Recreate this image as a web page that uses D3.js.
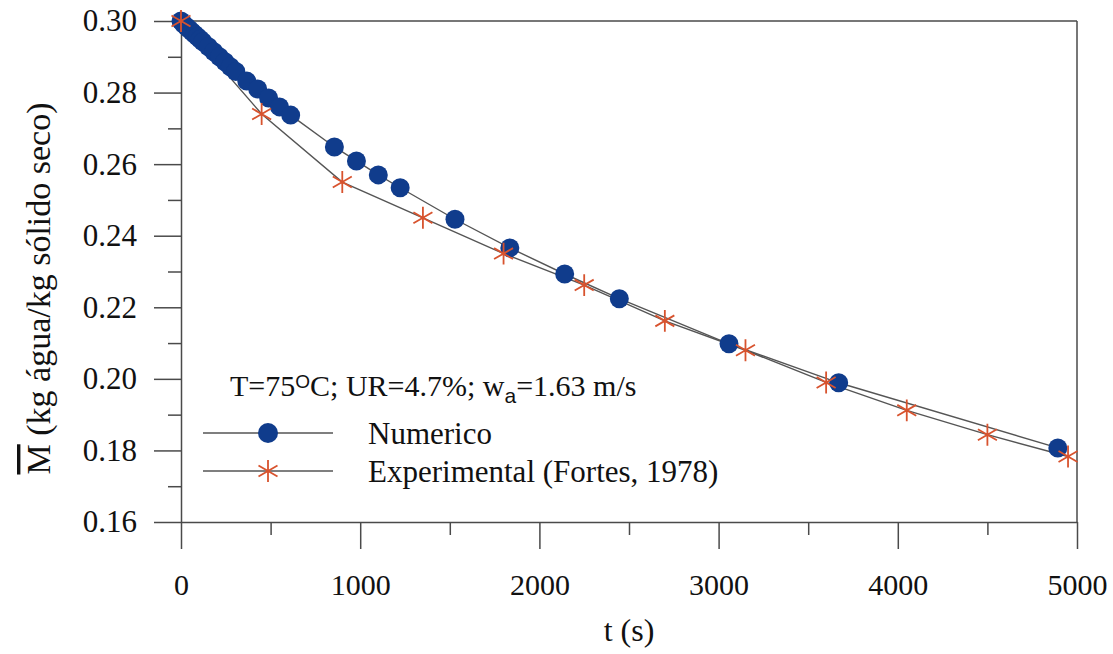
<!DOCTYPE html>
<html>
<head>
<meta charset="utf-8">
<script src="https://cdn.jsdelivr.net/npm/d3@7"></script>
<style>
  html, body { margin: 0; padding: 0; background: #ffffff; }
  svg { display: block; }
</style>
</head>
<body>
<svg id="chart" width="1113" height="654"></svg>
<script>
// Numerical solution: time (s) and average moisture content
const numTime = [0, 15, 31, 46, 61, 76, 92, 107, 122, 153, 183, 214, 245, 275, 306,
                 367, 428, 489, 550, 612, 856, 979, 1101, 1223, 1529, 1835, 2141, 2446,
                 3058, 3670, 4893];
const numM = [0.3000, 0.2991, 0.2984, 0.2977, 0.2970, 0.2963, 0.2956, 0.2949, 0.2942,
              0.2928, 0.2914, 0.2900, 0.2886, 0.2872, 0.2859,
              0.2832, 0.2810, 0.2785, 0.2760, 0.2737, 0.2648, 0.2609, 0.2570, 0.2534,
              0.2446, 0.2366, 0.2293, 0.2224, 0.2098, 0.1989, 0.1807];

// Experimental data (Fortes, 1978)
const expTime = [0, 450, 900, 1350, 1800, 2250, 2700, 3150, 3600, 4050, 4500, 4950];
const expM = [0.300, 0.274, 0.255, 0.245, 0.235, 0.2262, 0.2162, 0.208, 0.199, 0.1912, 0.1844, 0.1783];

// Axis ticks
const xTicks = [0, 1000, 2000, 3000, 4000, 5000];
const xMinorTicks = [500, 1500, 2500, 3500, 4500];
const yTicks = [0.16, 0.18, 0.20, 0.22, 0.24, 0.26, 0.28, 0.30];
const yMinorTicks = [0.17, 0.19, 0.21, 0.23, 0.25, 0.27, 0.29];

const seriesNames = ["Numerico", "Experimental (Fortes, 1978)"];

const SERIF = '"Liberation Serif", "Times New Roman", serif';
const svg = d3.select("#chart").style("font-family", SERIF);
const plotL = 181, plotR = 1077, plotT = 21, plotB = 522;

const x = d3.scaleLinear().domain([0, 5000]).range([plotL, plotR]);
const y = d3.scaleLinear().domain([0.16, 0.30]).range([plotB, plotT]);

const axisColor = "#4a4a4a";
const lineColor = "#555555";
const blue = "#103c8c";
const red = "#d8532e";

// frame: top and right borders
svg.append("line").attr("x1", plotL).attr("x2", plotR).attr("y1", plotT).attr("y2", plotT)
  .attr("stroke", axisColor).attr("stroke-width", 1.5);
svg.append("line").attr("x1", plotR).attr("x2", plotR).attr("y1", plotT).attr("y2", plotB)
  .attr("stroke", axisColor).attr("stroke-width", 1.5);

// minor ticks
svg.append("g").attr("transform", `translate(${plotL},0)`)
  .call(d3.axisLeft(y).tickValues(yMinorTicks).tickSize(13).tickFormat(""))
  .call(g => g.select(".domain").remove());
svg.append("g").attr("transform", `translate(0,${plotB})`)
  .call(d3.axisBottom(x).tickValues(xMinorTicks).tickSize(13).tickFormat(""))
  .call(g => g.select(".domain").remove());

// major axes
svg.append("g").attr("transform", `translate(${plotL},0)`)
  .call(d3.axisLeft(y).tickValues(yTicks).tickSize(27).tickSizeOuter(0).tickPadding(17)
    .tickFormat(d3.format(".2f")))
  .call(g => g.selectAll(".tick text").style("font-size", "31px"));
svg.append("g").attr("transform", `translate(0,${plotB})`)
  .call(d3.axisBottom(x).tickValues(xTicks).tickSize(27).tickSizeOuter(0).tickPadding(25)
    .tickFormat(d3.format("d")))
  .call(g => g.selectAll(".tick text").style("font-size", "30px"));

svg.selectAll("g").attr("font-family", null);
svg.selectAll(".tick line").attr("stroke", axisColor).attr("stroke-width", 1.5);
svg.selectAll(".domain").attr("stroke", axisColor).attr("stroke-width", 1.5);
svg.selectAll(".tick text").style("font-family", SERIF).attr("fill", "#111");

// axis titles
svg.append("text")
  .attr("x", (plotL + plotR) / 2).attr("y", 641)
  .attr("text-anchor", "middle")
  .style("font-family", SERIF).style("font-size", "32px").attr("fill", "#111")
  .text("t (s)");

const yTitle = svg.append("text")
  .attr("transform", `translate(50,${(plotT + plotB) / 2 + 17}) rotate(-90)`)
  .attr("text-anchor", "middle")
  .style("font-family", SERIF).style("font-size", "34px").attr("fill", "#111");
yTitle.append("tspan").style("text-decoration", "overline").text("M");
yTitle.append("tspan").text(" (kg água/kg sólido seco)");

// series lines
const lineGen = d3.line().x(d => x(d[0])).y(d => y(d[1]));
const numData = numTime.map((t, i) => [t, numM[i]]);
const expData = expTime.map((t, i) => [t, expM[i]]);

svg.append("path").datum(expData).attr("d", lineGen)
  .attr("fill", "none").attr("stroke", lineColor).attr("stroke-width", 1.4);
svg.append("path").datum(numData).attr("d", lineGen)
  .attr("fill", "none").attr("stroke", lineColor).attr("stroke-width", 1.4);

// markers
const star = d3.symbol().type(d3.symbolAsterisk).size(340);
svg.append("g").selectAll("circle").data(numData).join("circle")
  .attr("cx", d => x(d[0])).attr("cy", d => y(d[1])).attr("r", 9.5)
  .attr("fill", blue);
svg.append("g").selectAll("path").data(expData).join("path")
  .attr("transform", d => `translate(${x(d[0])},${y(d[1])})`)
  .attr("d", star).attr("fill", "none").attr("stroke", red).attr("stroke-width", 1.8);

// legend
const lg = svg.append("g");
const title = lg.append("text").attr("x", 230).attr("y", 396)
  .style("font-family", SERIF).style("font-size", "30px").attr("fill", "#111");
title.append("tspan").text("T=75");
title.append("tspan").attr("dy", -8).style("font-size", "19px")
  .style("font-family", '"Liberation Sans", sans-serif').text("O");
title.append("tspan").attr("dy", 8).text("C; UR=4.7%; w");
title.append("tspan").attr("dy", 7).style("font-size", "21px")
  .style("font-family", '"Liberation Sans", sans-serif').text("a");
title.append("tspan").attr("dy", -7).text("=1.63 m/s");

const rows = [
  { name: seriesNames[0], y: 433, kind: "circle" },
  { name: seriesNames[1], y: 471, kind: "star" }
];
rows.forEach(r => {
  lg.append("line").attr("x1", 203).attr("x2", 333).attr("y1", r.y).attr("y2", r.y)
    .attr("stroke", lineColor).attr("stroke-width", 1.4);
  if (r.kind === "circle") {
    lg.append("circle").attr("cx", 268).attr("cy", r.y).attr("r", 10).attr("fill", blue);
  } else {
    lg.append("path").attr("transform", `translate(268,${r.y})`).attr("d", star)
      .attr("fill", "none").attr("stroke", red).attr("stroke-width", 1.8);
  }
  lg.append("text").attr("x", 368).attr("y", r.y + 11)
    .style("font-family", SERIF).style("font-size", "31px").attr("fill", "#111")
    .text(r.name);
});
</script>
</body>
</html>
